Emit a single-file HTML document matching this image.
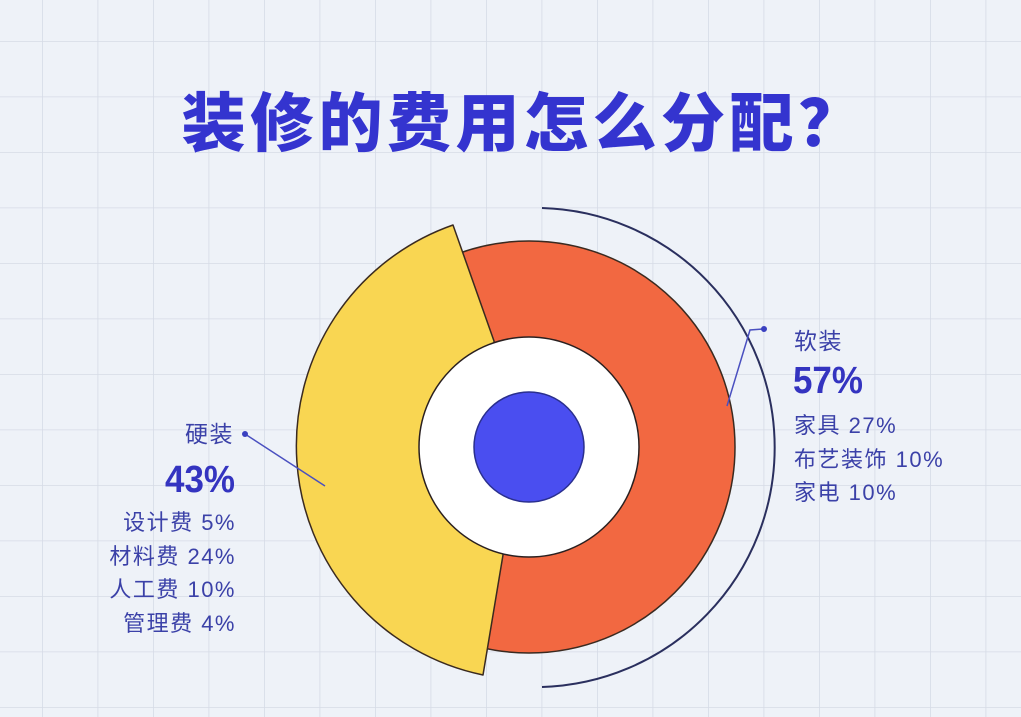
<!DOCTYPE html>
<html><head><meta charset="utf-8"><style>
html,body{margin:0;padding:0;width:1021px;height:717px;overflow:hidden;background:#eef2f8}
svg{display:block}
text{font-family:"Liberation Sans","Noto Sans CJK SC",sans-serif}
</style></head><body>
<svg width="1021" height="717" viewBox="0 0 1021 717">
<defs>
<pattern id="g" x="42" y="41" width="55.5" height="55.5" patternUnits="userSpaceOnUse">
<path d="M0 0V55.5M0 0H55.5" stroke="#d6dbe6" stroke-width="1.6" fill="none"/>
</pattern>
</defs>
<rect width="1021" height="717" fill="#eef2f8"/>
<rect width="1021" height="717" fill="url(#g)"/>
<text x="524" y="146" text-anchor="middle" font-size="64" font-weight="900" fill="#3434cf" letter-spacing="4.5" font-family="'Noto Sans CJK SC',sans-serif">装修的费用怎么分配？</text>

<path d="M542 208 A239.6 239.6 0 0 1 542 687" fill="none" stroke="#2a2f5e" stroke-width="2"/>
<circle cx="529" cy="447" r="206" fill="#f26841" stroke="#3a2a20" stroke-width="1.5"/>
<path d="M453 225 A234 234 0 0 0 483 675 L503 555 L494 341 Z" fill="#f9d652" stroke="#3a2a20" stroke-width="1.5" stroke-linejoin="round"/>
<circle cx="529" cy="447" r="110" fill="#ffffff" stroke="#2a2020" stroke-width="1.5"/>
<circle cx="529" cy="447" r="55" fill="#4a4ef0" stroke="#2a2f8e" stroke-width="1.5"/>

<polyline points="727,406 750,330 763,329" fill="none" stroke="#4a50c0" stroke-width="1.5"/>
<circle cx="764" cy="329" r="3" fill="#3a40c0"/>
<line x1="245" y1="434" x2="325" y2="486" stroke="#4a50c0" stroke-width="1.5"/>
<circle cx="245" cy="434" r="3" fill="#3a40c0"/>

<g fill="#3b41a8" font-size="22" letter-spacing="1.5">
<text x="794" y="349" font-size="23">软装</text>
<text x="793" y="393" font-size="38" font-weight="bold" fill="#3434c0" letter-spacing="0" transform="translate(793 0) scale(0.92 1) translate(-793 0)">57%</text>
<text x="794" y="433">家具 27%</text>
<text x="794" y="467">布艺装饰 10%</text>
<text x="794" y="500">家电 10%</text>
</g>
<g fill="#3b41a8" font-size="22" text-anchor="end" letter-spacing="1.5">
<text x="234" y="442" font-size="23">硬装</text>
<text x="235" y="492" font-size="38" font-weight="bold" fill="#3434c0" letter-spacing="0" transform="translate(235 0) scale(0.92 1) translate(-235 0)">43%</text>
<text x="236" y="530">设计费 5%</text>
<text x="236" y="564">材料费 24%</text>
<text x="236" y="597">人工费 10%</text>
<text x="236" y="631">管理费 4%</text>
</g>
</svg>
</body></html>
